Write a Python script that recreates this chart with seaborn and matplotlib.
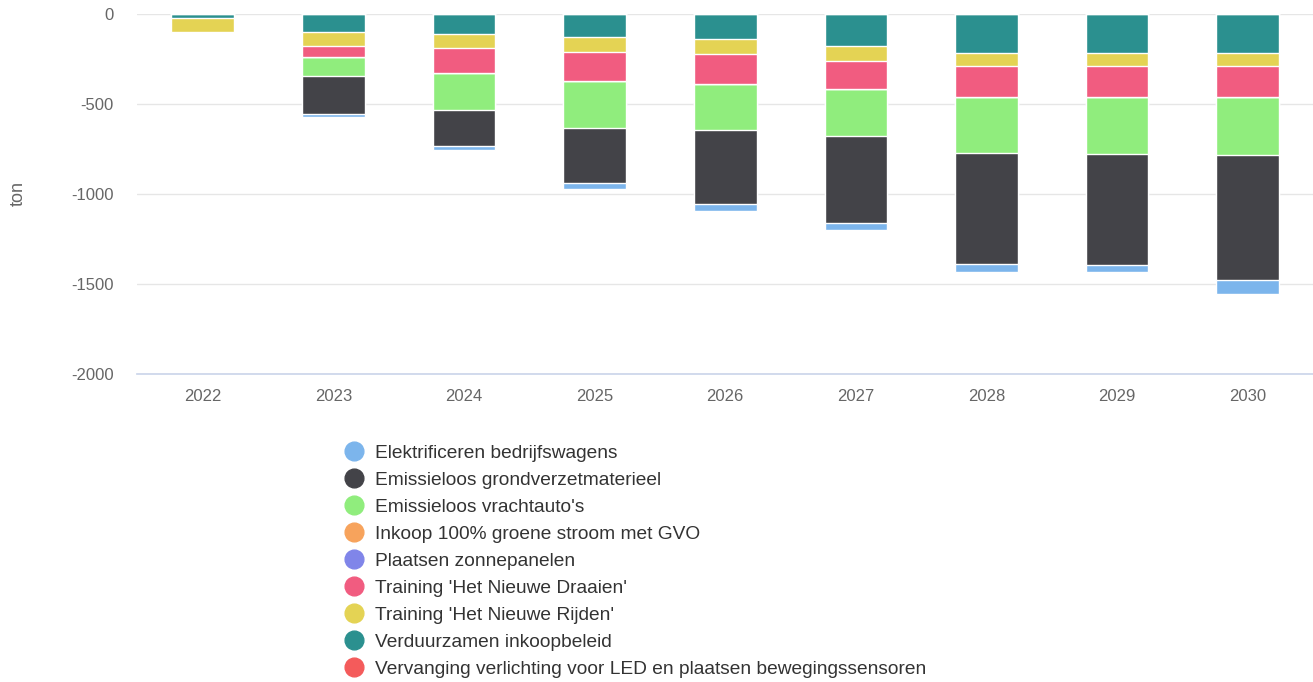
import numpy as np
import matplotlib.pyplot as plt
import seaborn as sns
from matplotlib.lines import Line2D

years = ['2022', '2023', '2024', '2025', '2026', '2027', '2028', '2029', '2030']

# values in ton per measure (negative = reduction)
elektrificeren = [0, -17, -18, -33, -39, -37, -48, -39, -79]
grondverzet = [0, -212, -203, -305, -408, -482, -615, -615, -690]
vrachtautos = [0, -104, -203, -265, -258, -261, -309, -318, -322]
inkoop_gvo = [0, 0, 0, 0, 0, 0, 0, 0, 0]
zonnepanelen = [0, 0, 0, 0, 0, 0, 0, 0, 0]
draaien = [0, -62, -142, -157, -166, -158, -170, -170, -170]
rijden = [-75, -79, -76, -83, -82, -83, -75, -75, -75]
inkoopbeleid = [-25, -101, -113, -132, -142, -178, -219, -219, -219]
led = [0, 0, 0, 0, 0, 0, 0, 0, 0]

names = ["Elektrificeren bedrijfswagens", "Emissieloos grondverzetmaterieel",
         "Emissieloos vrachtauto's", "Inkoop 100% groene stroom met GVO",
         "Plaatsen zonnepanelen", "Training 'Het Nieuwe Draaien'",
         "Training 'Het Nieuwe Rijden'", "Verduurzamen inkoopbeleid",
         "Vervanging verlichting voor LED en plaatsen bewegingssensoren"]
series = [elektrificeren, grondverzet, vrachtautos, inkoop_gvo, zonnepanelen,
          draaien, rijden, inkoopbeleid, led]
colors = ['#7cb5ec', '#434348', '#90ed7d', '#f7a35c', '#8085e9',
          '#f15c80', '#e4d354', '#2b908f', '#f45b5b']

sns.set_theme(style="white")
plt.rcParams['font.family'] = ['Liberation Sans', 'DejaVu Sans']
plt.rcParams['axes.unicode_minus'] = False

fig = plt.figure(figsize=(13.13, 6.82), dpi=100)
ax = fig.add_axes([0.1047, 0.4516, 0.8953, 0.5286])

# stack from zero outward: last series sits nearest to zero
order = list(range(len(series)))[::-1]
cum = np.zeros(len(years))
cums = []
for i in order:
    cum = cum + np.array(series[i])
    cums.append((i, cum.copy()))

# draw the deepest cumulative first, then overlay the shallower ones
for i, c in cums[::-1]:
    sns.barplot(x=years, y=c, color=colors[i], width=0.48, ax=ax,
                edgecolor='white', linewidth=1, saturation=1)

ax.set_ylim(-2000, 0)
ax.set_xlim(-0.5, len(years) - 0.5)
ax.set_yticks([0, -500, -1000, -1500, -2000])
ax.yaxis.grid(True, color='#e6e6e6', linewidth=1)
ax.set_axisbelow(True)
for s in ['top', 'right', 'left']:
    ax.spines[s].set_visible(False)
ax.spines['bottom'].set_color('#ccd6eb')
ax.tick_params(axis='y', length=0, pad=17, labelsize=12, labelcolor='#666666')
ax.tick_params(axis='x', length=0, pad=11, labelsize=12, labelcolor='#666666')
ax.set_ylabel('ton', fontsize=13, color='#666666')
ax.yaxis.set_label_coords(-0.0945, 0.5)
ax.set_xlabel('')

handles = [Line2D([], [], marker='o', linestyle='', markersize=13.5,
                  markerfacecolor=c, markeredgecolor=c) for c in colors]
fig.legend(handles, names, loc='upper left', bbox_to_anchor=(0.262, 0.3486),
           frameon=False, fontsize=13.8, borderpad=0, borderaxespad=0,
           handlelength=1.0, handletextpad=0.62, labelspacing=0.5,
           labelcolor='#333333')

fig.savefig('out.png', dpi=100)
